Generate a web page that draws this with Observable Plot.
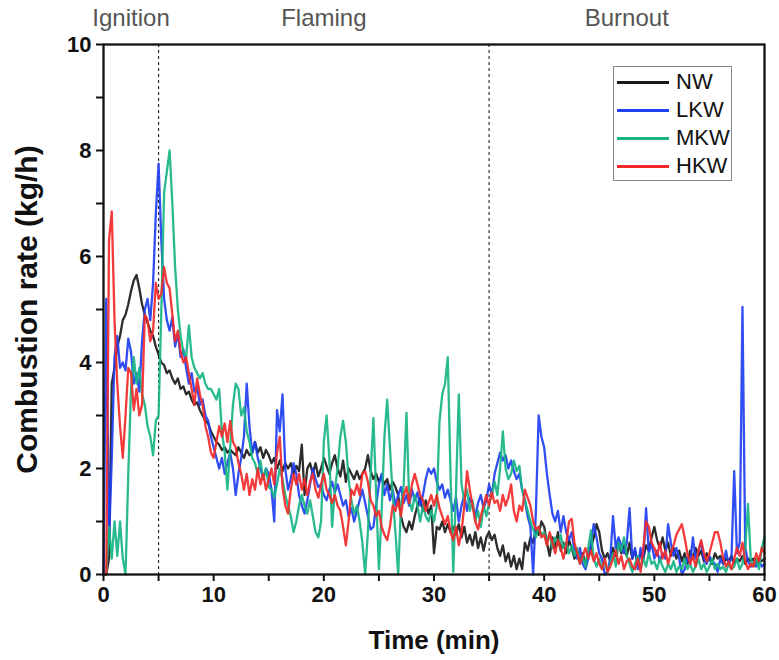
<!DOCTYPE html>
<html>
<head>
<meta charset="utf-8">
<script src="https://cdn.jsdelivr.net/npm/d3@7"></script>
<script src="https://cdn.jsdelivr.net/npm/@observablehq/plot@0.6"></script>
<style>
  html, body { margin: 0; padding: 0; background: #fff; }
  #wrap { position: relative; width: 779px; height: 660px; }
  #legend { position: absolute; box-sizing: border-box; background: #fff; border: 1.5px solid #888;
            font-family: 'Liberation Sans', Arial, sans-serif; font-size: 22px; color: #111; }
  #legend .row { display: flex; align-items: center; height: 28px; }
  #legend .sw { display: inline-block; width: 52px; height: 3px; margin-left: 3px; margin-right: 7px; }
</style>
</head>
<body>
<div id="wrap"></div>
<script>
// ---------------- data ----------------
const timeStep = 0.25; // minutes between samples, t = 0 ... 60
const seriesNames = ["NW", "LKW", "MKW", "HKW"];
const seriesColors = ["#1a1a1a", "#1f3ff2", "#17b585", "#f22a2a"];

const nw = [
  0, 0, 0.3, 3.6, 3.9, 4.3, 4.5, 4.8, 4.9, 5.1,
  5.35, 5.55, 5.65, 5.4, 5.1, 4.9, 4.75, 4.6, 4.5, 4.3,
  4.15, 4.0, 3.95, 3.8, 3.85, 3.7, 3.6, 3.7, 3.5, 3.55,
  3.4, 3.45, 3.3, 3.2, 3.25, 3.1, 3.0, 2.9, 2.85, 2.7,
  2.6, 2.5, 2.45, 2.35, 2.4, 2.3, 2.35, 2.3, 2.25, 2.4,
  2.3, 2.2, 2.35, 2.25, 2.3, 2.5, 2.3, 2.4, 2.2, 2.35,
  2.25, 2.1, 2.2, 2.0, 2.15, 1.95, 2.1, 2.0, 2.1, 1.9,
  2.05, 1.95, 2.45, 1.5, 2.0, 2.1, 1.9, 2.1, 1.85, 2.0,
  2.2, 2.05, 1.9, 2.1, 2.25, 2.0, 1.85, 2.15, 1.75, 2.0,
  1.9, 1.8, 1.95, 1.8, 1.9, 2.0, 2.25, 1.95, 1.8, 1.9,
  1.75, 1.85, 1.7, 1.8, 1.6, 1.75, 1.65, 1.5, 1.1, 0.9,
  0.8, 1.0, 0.85, 1.1, 1.3, 1.45, 1.2, 1.4, 1.15, 1.3,
  0.4, 0.9, 0.85, 1.0, 0.8, 0.95, 0.8, 0.9, 0.75, 0.95,
  0.7, 0.9, 0.6, 0.75, 0.55, 0.8, 0.5, 0.7, 0.45, 0.7,
  0.8, 0.65, 0.75, 0.5, 0.35, 0.55, 0.25, 0.4, 0.15, 0.35,
  0.1, 0.3, 0.1, 0.6, 0.45, 0.7, 0.6, 0.85, 0.75, 1.0,
  0.9, 0.6, 0.35, 0.7, 0.5, 0.8, 0.45, 0.6, 0.4, 0.65,
  0.5, 0.3, 0.45, 0.25, 0.4, 0.2, 0.35, 0.5, 0.7, 0.95,
  0.8, 0.45, 0.3, 0.4, 0.25, 0.5, 0.35, 0.6, 0.4, 0.55,
  0.35, 0.6, 0.3, 0.45, 0.2, 0.4, 0.3, 0.55, 0.45, 0.7,
  0.9, 0.65, 0.5, 0.7, 0.45, 0.6, 0.35, 0.5, 0.3, 0.45,
  0.25, 0.4, 0.2, 0.45, 0.3, 0.5, 0.35, 0.45, 0.25, 0.4,
  0.3, 0.2, 0.4, 0.3, 0.35, 0.2, 0.3, 0.25, 0.35, 0.2,
  0.3, 0.25, 0.35, 0.2, 0.3, 0.25, 0.3, 0.2, 0.3, 0.25, 0.3
];

const lkw = [
  0, 5.2, 0.6, 2.2, 4.1, 4.5, 3.9, 4.0, 3.85, 4.45,
  4.2, 3.6, 3.8, 3.45, 4.4, 5.0, 5.2, 4.8, 5.5, 6.8,
  7.75, 6.3, 5.2, 4.8, 4.6, 4.85, 4.3, 4.55, 4.1, 4.25,
  3.9, 3.6, 3.8, 3.45, 3.55, 3.2, 3.3, 3.0, 2.9, 2.6,
  2.4, 2.2, 2.0, 2.2, 1.9, 2.1, 2.3, 2.0, 1.5, 1.9,
  2.2, 2.6, 3.6, 2.8, 2.3, 2.5, 2.2, 2.0, 1.8, 2.0,
  1.9, 1.6, 1.0, 3.1, 2.7, 3.4, 2.0, 1.6, 1.8, 2.1,
  1.9, 1.5, 1.3, 1.15, 1.4, 1.7, 2.0, 1.8, 1.65, 1.7,
  1.5, 1.4, 1.6, 1.75, 1.55, 1.7, 1.5, 1.3, 1.4, 1.1,
  1.25, 1.0, 1.2, 1.4, 1.6, 1.35, 1.1, 0.85, 0.9, 1.3,
  1.7, 1.9, 1.5, 1.7, 1.4, 1.6, 1.3, 1.5, 1.65, 1.35,
  1.5, 1.3, 1.6, 1.4, 1.55, 1.3, 1.5, 1.8, 2.0, 1.9,
  2.0, 1.75, 1.6, 1.7, 1.45, 1.6, 1.4, 1.2, 1.45, 1.0,
  1.3, 1.5, 1.2, 1.45, 1.3, 1.1, 1.35, 1.5, 1.25, 1.4,
  1.7, 1.5, 1.9, 2.1, 2.3, 2.15, 2.25, 2.0, 2.15, 1.95,
  1.8, 1.9, 1.6, 1.4, 1.1, 0.9, 0, 1.2, 3.0, 2.6,
  2.4, 1.9, 1.5, 1.15, 1.0, 1.2, 0.8, 1.1, 0.8, 0.65,
  0.8, 0.45, 0.3, 0.5, 0.2, 0.1, 0.3, 0.6, 0.95, 0.7,
  0.4, 0.3, 0, 0.05, 0.3, 1.1, 0.5, 0.7, 0.55, 0.4,
  0.6, 1.25, 0.3, 0.5, 0.1, 0.5, 0.3, 1.25, 0.4, 0.6,
  0.3, 0.45, 0.25, 0.4, 0.3, 0.95, 0.6, 0.35, 0.5, 0.3,
  0.0, 0.1, 0.3, 0.2, 0.7, 0.3, 0.45, 0.6, 0.3, 0.2,
  0.35, 0.25, 0.2, 0.05, 0.3, 0.2, 0.45, 0.2, 0.3, 1.95,
  0.4, 0.6, 5.05, 0.5, 0.25, 0.15, 0.2, 0.15, 0.25, 0.15, 0.2
];

const mkw = [
  0, 0, 0.9, 0.3, 1.0, 0.35, 1.0, 0.3, 0, 1.9,
  3.5, 4.1, 3.6, 3.9, 3.4, 3.2, 2.8, 2.6, 2.25, 2.9,
  3.0, 5.0, 7.2, 7.6, 8.0, 7.0, 5.8, 5.0, 4.5, 4.2,
  4.1, 4.7, 4.1, 3.9, 3.8, 3.7, 3.8, 3.6, 3.5, 3.5,
  3.4, 3.3, 3.5, 2.7, 2.3, 1.6, 2.4, 3.2, 3.6, 3.5,
  3.0, 3.15, 2.7, 2.5, 2.2, 2.1, 1.9, 2.15, 1.8, 2.0,
  1.65, 1.6, 1.45, 1.7, 2.0, 1.8, 1.5, 1.3, 1.1, 0.8,
  1.0, 1.3, 1.5, 1.3, 1.15, 1.4, 1.1, 0.8, 0.7, 1.0,
  2.5, 3.0, 2.2, 0.9, 1.6, 2.0, 2.6, 2.9, 2.5, 1.8,
  1.4, 1.15, 1.3, 1.0, 0.6, 0, 0.8, 1.9, 2.95, 1.5,
  0.1, 1.2, 2.6, 3.3, 2.4, 1.5, 0.8, 0, 1.3, 1.7,
  3.05, 1.4, 1.2, 1.5, 1.3, 1.0, 1.3, 1.1, 1.0, 1.2,
  1.0, 1.3, 2.9, 3.4, 3.6, 4.1, 1.9, 0.05, 1.6, 3.4,
  1.7, 1.4, 1.6, 1.2, 1.4, 1.0, 1.2, 0.9, 1.3, 1.1,
  1.35, 1.5, 1.75, 1.5, 2.0, 2.7, 2.0, 1.8, 1.9, 2.15,
  1.95, 2.05, 1.6, 1.4, 1.2, 1.0, 0.85, 0.7, 0.9, 0.75,
  0.8, 0.65, 0.75, 0.5, 0.7, 0.55, 0.75, 0.5, 0.6, 0.4,
  0.55, 0.35, 0.5, 0.2, 0.35, 0.15, 0.5, 0.83, 0.3, 0.15,
  0.3, 0.1, 0.25, 0.05, 0.2, 0.4, 0.15, 0.6, 0.45, 0.7,
  0.35, 0.2, 0.05, 0.2, 0.35, 0.1, 0.3, 0.15, 0.4, 0.2,
  0.25, 0.1, 0.3, 0.15, 0.05, 0.2, 0.1, 0.25, 0.05, 0.15,
  0.1, 0.3, 0.1, 0.2, 0.05, 0.15, 0.3, 0.1, 0.2, 0.05,
  0.15, 0.3, 0.1, 0.2, 0.1, 0.15, 0.05, 0.2, 0.1, 0.15,
  0.3, 0.1, 0.2, 0.5, 1.33, 0.3, 0.15, 0.3, 0.1, 0.5, 0.7
];

const hkw = [
  0, 0, 6.3, 6.85, 4.8, 3.6, 2.8, 2.2, 3.0, 3.9,
  3.8, 3.1, 3.5, 3.0, 3.2, 4.9, 4.8, 4.4, 4.6, 5.5,
  5.2, 5.3, 5.8, 5.5, 5.4, 4.9, 4.4, 4.6, 4.2, 4.0,
  4.1, 3.8, 3.5, 3.2, 3.7, 3.4, 3.2, 2.8, 2.6, 2.3,
  2.2, 2.5, 2.8, 2.6, 2.85, 2.5, 2.9, 2.5, 2.4, 2.1,
  1.9, 1.6, 1.9, 1.5, 1.8, 1.6, 2.0, 1.7, 1.9, 1.6,
  1.8, 2.0, 1.7, 2.3, 2.6, 1.65, 1.3, 1.15, 1.6, 1.9,
  1.7, 1.9, 1.6, 1.8, 1.5, 1.75, 1.9, 1.6, 1.45, 1.7,
  1.9, 1.6, 1.5, 1.35, 1.5, 1.3, 1.2, 0.9, 0.55, 1.0,
  1.6, 1.5, 1.7, 1.5, 1.9, 1.95, 1.75, 1.4, 1.3, 1.1,
  1.2, 0.9, 0.75, 0.65, 0.9, 1.3, 1.2, 1.4, 1.1, 1.5,
  1.65, 1.35, 1.7, 1.9, 1.7, 1.5, 1.4, 1.2, 1.35, 1.5,
  1.3, 1.5, 1.25, 1.1, 0.95, 1.1, 0.8, 0.65, 0.9, 0.55,
  0.8, 1.3, 1.95, 1.6, 1.3, 1.0, 0.85, 1.1, 1.3, 1.5,
  1.3, 1.55, 1.35, 1.4, 1.2, 1.5, 1.3, 1.45, 1.7, 1.2,
  1.0, 1.3, 1.2, 1.6, 1.45, 1.3, 1.0, 0.85, 0.9, 0.7,
  0.75, 0.55, 0.8, 0.6, 0.4, 0.65, 0.5, 0.3, 0.55, 1.0,
  1.05, 0.6, 0.4, 0.2, 0.35, 0.5, 0.3, 0.45, 0.25, 0.4,
  0.2, 0.1, 0.3, 0.05, 0.15, 0.3, 0.45, 0.2, 0.35, 0.1,
  0.25, 0.3, 0.15, 0.1, 0.3, 0.05, 0.5, 1.0, 0.9, 0.6,
  0.5, 0.35, 0.6, 0.3, 0.45, 0.2, 0.4, 0.55, 0.75, 0.85,
  0.95, 0.7, 0.4, 0.2, 0.35, 0.15, 0.45, 0.65, 0.4, 0.25,
  0.4, 0.6, 0.8, 0.8, 0.6, 0.3, 0.15, 0.25, 0.1, 0.3,
  0.5, 0.35, 0.6, 0.25, 0.1, 0.2, 0.15, 0.4, 0.25, 0.5, 0.4
];

const phases = [
  { name: "Ignition", start: 0, end: 5 },
  { name: "Flaming", start: 5, end: 35 },
  { name: "Burnout", start: 35, end: 60 }
];
const phaseBounds = [5, 35];
const xTicks = [0, 5, 10, 15, 20, 25, 30, 35, 40, 45, 50, 55, 60];
const yTicks = [0, 1, 2, 3, 4, 5, 6, 7, 8, 9, 10];
const xTitle = "Time (min)";
const yTitle = "Combustion rate (kg/h)";

// ---------------- build ----------------
const seriesValues = [nw, lkw, mkw, hkw];
const rows = seriesValues.flatMap((vals, i) =>
  vals.map((v, j) => ({ t: j * timeStep, v, s: seriesNames[i] })));

const font = "'Liberation Sans', Arial, sans-serif";

const chart = Plot.plot({
  width: 779,
  height: 660,
  marginTop: 44,
  marginRight: 15,
  marginBottom: 86,
  marginLeft: 103,
  style: { fontFamily: font, background: "white", color: "#111", overflow: "visible" },
  x: { domain: [0, 60] },
  y: { domain: [0, 10] },
  color: { domain: seriesNames, range: seriesColors },
  marks: [
    Plot.ruleX(phaseBounds, { stroke: "#222", strokeWidth: 1.1, strokeDasharray: "3,3" }),
    Plot.line(rows, { x: "t", y: "v", z: "s", stroke: "s", strokeWidth: 2.3, strokeOpacity: 0.92, strokeLinejoin: "round" }),
    Plot.frame({ stroke: "#111", strokeWidth: 2.3 }),
    Plot.axisX({ ticks: xTicks, tickFormat: d => (d % 10 === 0 ? d : ""), tickSize: 7, tickPadding: 5,
                 fontSize: 22, fontWeight: "bold", strokeWidth: 2, label: null }),
    Plot.axisY({ ticks: yTicks, tickFormat: d => (d % 2 === 0 ? d : ""), tickSize: 7, tickPadding: 5,
                 fontSize: 22, fontWeight: "bold", strokeWidth: 2, label: null }),
    Plot.text(phases, { x: d => (d.start + d.end) / 2, text: "name", frameAnchor: "top", lineAnchor: "middle",
                        dy: -26, fontSize: 24, fill: "#555" }),
    Plot.text([yTitle], { text: d => d, frameAnchor: "left", textAnchor: "middle", lineAnchor: "middle",
                          rotate: -90, dx: -76, fontSize: 30, fontWeight: "bold" }),
    Plot.text([xTitle], { text: d => d, frameAnchor: "bottom", lineAnchor: "middle", dy: 66,
                          fontSize: 26, fontWeight: "bold" })
  ]
});

const wrap = document.getElementById("wrap");
wrap.appendChild(chart);

// legend (HTML, from the series arrays)
const legend = document.createElement("div");
legend.id = "legend";
Object.assign(legend.style, { left: "613px", top: "66px", width: "119px", height: "115px", paddingTop: "1px" });
seriesNames.forEach((name, i) => {
  const row = document.createElement("div");
  row.className = "row";
  const sw = document.createElement("span");
  sw.className = "sw";
  sw.style.background = seriesColors[i];
  const tx = document.createElement("span");
  tx.textContent = name;
  row.appendChild(sw);
  row.appendChild(tx);
  legend.appendChild(row);
});
wrap.appendChild(legend);
</script>
</body>
</html>
